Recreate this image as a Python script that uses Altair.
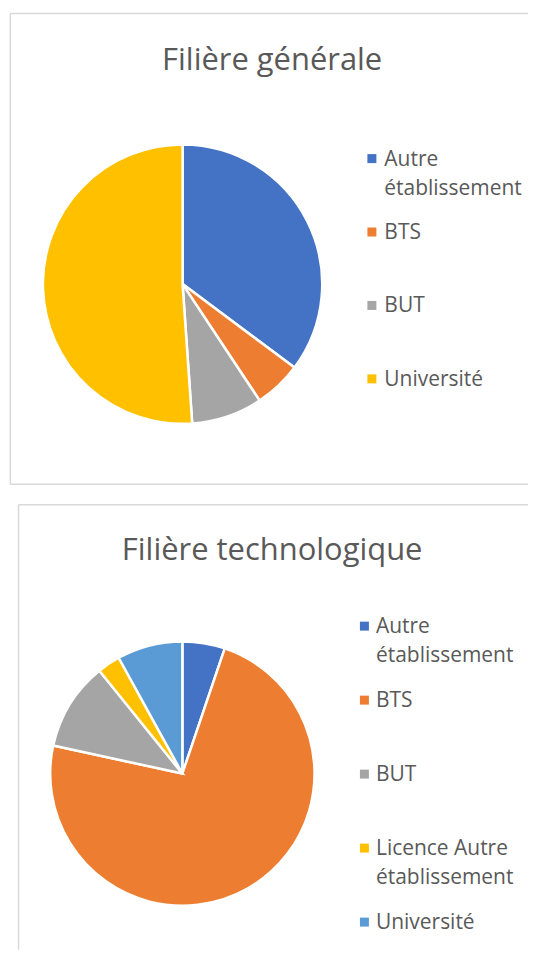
import altair as alt
import pandas as pd

# ---- data ----
title_gen = "Filière générale"
cats_gen = ["Autre établissement", "BTS", "BUT", "Université"]
vals_gen = [35.2, 5.5, 8.2, 51.1]
colors_gen = ["#4472C4", "#ED7D31", "#A5A5A5", "#FFC000"]
labels_gen = ["Autre\nétablissement", "BTS", "BUT", "Université"]

title_tech = "Filière technologique"
cats_tech = ["Autre établissement", "BTS", "BUT", "Licence Autre établissement", "Université"]
vals_tech = [5.2, 73.2, 10.8, 2.8, 8.0]
colors_tech = ["#4472C4", "#ED7D31", "#A5A5A5", "#FFC000", "#5B9BD5"]
labels_tech = ["Autre\nétablissement", "BTS", "BUT", "Licence Autre\nétablissement", "Université"]

FONT = "Open Sans"
TXT = "#595959"
BORDER = "#D9D9D9"


def panel(title, cats, vals, colors, labels, w, h, cx, cy, r,
          sq_x, txt_x, leg_y0, leg_y1, title_x, title_y, frame_x0, frame_bottom):
    df = pd.DataFrame({"cat": cats, "val": vals,
                       "idx": list(range(len(cats))), "label": labels})
    color = alt.Color("cat:N", scale=alt.Scale(domain=cats, range=colors), legend=None)
    base = alt.Chart(df)
    pie = base.mark_arc(outerRadius=r, stroke="white", strokeWidth=2.5).encode(
        theta=alt.Theta("val:Q", stack=True),
        color=color,
        order=alt.Order("idx:Q"),
        x=alt.value(cx), y=alt.value(cy),
    )
    yscale = alt.Scale(type="point", domain=cats, range=[leg_y0, leg_y1], padding=0)
    sq = base.mark_square(size=81, opacity=1).encode(
        x=alt.value(sq_x),
        y=alt.Y("cat:N", scale=yscale, axis=None),
        color=color,
    )
    txt = base.mark_text(align="left", baseline="alphabetic", dy=7, fontSize=21,
                         font=FONT, color=TXT, lineBreak="\n", lineHeight=29).encode(
        x=alt.value(txt_x),
        y=alt.Y("cat:N", scale=yscale, axis=None),
        text="label:N",
    )
    tdf = pd.DataFrame({"t": [title]})
    ttl = alt.Chart(tdf).mark_text(fontSize=31, font=FONT, color=TXT, align="center",
                                   baseline="alphabetic").encode(
        x=alt.value(title_x), y=alt.value(title_y), text="t:N")

    # chart-area frame (the right edge, and the lower edge of the second chart,
    # lie outside the cropped picture)
    fd = alt.Chart(pd.DataFrame({"f": [0]}))
    left = fd.mark_rule(color=BORDER, strokeWidth=1.5).encode(
        x=alt.value(frame_x0), y=alt.value(0), y2=alt.value(h))
    top = fd.mark_rule(color=BORDER, strokeWidth=1.5).encode(
        x=alt.value(frame_x0), x2=alt.value(w), y=alt.value(0))
    layers = [left, top]
    if frame_bottom:
        layers.append(fd.mark_rule(color=BORDER, strokeWidth=1.5).encode(
            x=alt.value(frame_x0), x2=alt.value(w), y=alt.value(h)))
    layers += [pie, sq, txt, ttl]
    return alt.layer(*layers).properties(
        width=w, height=h,
        view=alt.ViewBackground(stroke="transparent", strokeWidth=0),
    ).resolve_scale(color="independent", y="independent")


p1 = panel(title_gen, cats_gen, vals_gen, colors_gen, labels_gen,
           w=519, h=472, cx=172.7, cy=271.3, r=140,
           sq_x=362.5, txt_x=375, leg_y0=145.5, leg_y1=366.3,
           title_x=262.5, title_y=56.3, frame_x0=0, frame_bottom=True)

p2 = panel(title_tech, cats_tech, vals_tech, colors_tech, labels_tech,
           w=519, h=446, cx=172.5, cy=269.5, r=132.5,
           sq_x=355, txt_x=366.6, leg_y0=121.7, leg_y1=418.4,
           title_x=262.5, title_y=55.7, frame_x0=8.3, frame_bottom=False)

chart = alt.vconcat(p1, p2, spacing=18.5).resolve_scale(color="independent").properties(
    padding={"left": 1.3, "top": 3.3, "right": 0, "bottom": 0},
    background="white",
)

chart.save("out.html", embed_options={"renderer": "svg", "actions": False})
